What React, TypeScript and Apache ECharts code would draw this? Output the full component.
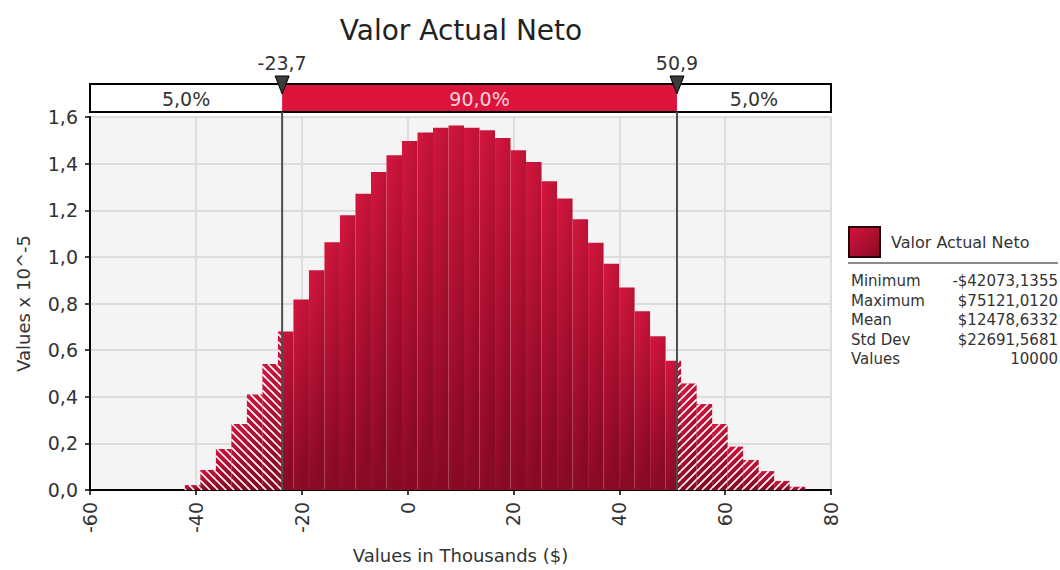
import React, { useEffect, useRef } from "react";
import * as echarts from "echarts";

const FONT = "DejaVu Sans";
const chartTitle = "Valor Actual Neto";
const seriesName = "Valor Actual Neto";
const xAxisName = "Values in Thousands ($)";
const yAxisName = "Values x 10^-5";

// histogram: 40 equal bins between min and max (thousands of $)
const binCount = 40;
const minValue = -42.0731355;
const maxValue = 75.121012;
const densities = [
  0.021, 0.086, 0.176, 0.283, 0.41, 0.54, 0.68, 0.817, 0.943, 1.063,
  1.179, 1.271, 1.364, 1.436, 1.497, 1.534, 1.554, 1.564, 1.554, 1.543,
  1.51, 1.457, 1.407, 1.324, 1.25, 1.161, 1.061, 0.971, 0.869, 0.767,
  0.66, 0.554, 0.457, 0.369, 0.283, 0.186, 0.129, 0.081, 0.039, 0.014,
];

const lowerCutoff = -23.7;
const upperCutoff = 50.9;
const cutoffLabels = ["-23,7", "50,9"];
const bandLabels = ["5,0%", "90,0%", "5,0%"];

const xMin = -60;
const xMax = 80;
const xInterval = 20;
const yMin = 0;
const yMax = 1.6;
const yInterval = 0.2;

const statLabels = ["Minimum", "Maximum", "Mean", "Std Dev", "Values"];
const statValues = ["-$42073,1355", "$75121,0120", "$12478,6332", "$22691,5681", "10000"];

const CRIMSON = "#dc143c";

function barGradient() {
  return new echarts.graphic.LinearGradient(0, 0, 0.35, 1, [
    { offset: 0, color: "#d5163f" },
    { offset: 1, color: "#880a24" },
  ]);
}

function addStripes(children: any[], ax: number, bx: number, y0: number, y1: number, dir: number) {
  const P = 8;
  if (bx - ax < 0.5) return;
  const st = { stroke: "#ffffff", lineWidth: 1.6 };
  if (dir > 0) {
    // lines x + y = c  ("/")
    const cmin = ax + y0;
    const cmax = bx + y1;
    for (let c = Math.ceil(cmin / P) * P; c <= cmax; c += P) {
      const xs = Math.max(ax, c - y1);
      const xe = Math.min(bx, c - y0);
      if (xe > xs) {
        children.push({ type: "line", shape: { x1: xs, y1: c - xs, x2: xe, y2: c - xe }, style: st });
      }
    }
  } else {
    // lines x - y = c  ("\")
    const cmin = ax - y1;
    const cmax = bx - y0;
    for (let c = Math.ceil(cmin / P) * P; c <= cmax; c += P) {
      const xs = Math.max(ax, y0 + c);
      const xe = Math.min(bx, y1 + c);
      if (xe > xs) {
        children.push({ type: "line", shape: { x1: xs, y1: xs - c, x2: xe, y2: xe - c }, style: st });
      }
    }
  }
}

export default function App() {
  const ref = useRef<HTMLDivElement>(null);

  useEffect(() => {
    if (!ref.current) return;
    const chart = echarts.init(ref.current, undefined, { renderer: "svg" });

    const binWidth = (maxValue - minValue) / binCount;
    const histData = densities.map((d, i) => [minValue + i * binWidth, minValue + (i + 1) * binWidth, d]);
    const bandData = [
      [xMin, lowerCutoff, 0],
      [lowerCutoff, upperCutoff, 1],
      [upperCutoff, xMax, 2],
    ];
    const cutoffData = [[lowerCutoff, 0], [upperCutoff, 1]];

    const axisText = { fontFamily: FONT, fontSize: 19, color: "#333" };
    const hiddenAxis = {
      show: false,
      axisLine: { show: false, onZero: false },
      axisTick: { show: false },
      axisLabel: { show: false },
      splitLine: { show: false },
    };

    const option: any = {
      animation: false,
      backgroundColor: "#ffffff",
      textStyle: { fontFamily: FONT },
      grid: [
        {
          left: 90, right: 229, top: 117, bottom: 80,
          show: true, backgroundColor: "#f4f4f4", borderWidth: 0,
        },
        { left: 90, right: 229, top: 84, height: 28, show: false },
      ],
      xAxis: [
        {
          type: "value", gridIndex: 0, min: xMin, max: xMax, interval: xInterval,
          name: xAxisName, nameLocation: "middle", nameGap: 56,
          nameTextStyle: { fontFamily: FONT, fontSize: 18, color: "#333" },
          axisLine: { show: true, onZero: false, lineStyle: { color: "#000", width: 2 } },
          axisTick: { show: true, length: 5, lineStyle: { color: "#000", width: 1.5 } },
          axisLabel: { ...axisText, rotate: 90, margin: 12, formatter: (v: number) => String(v) },
          splitLine: { show: true, lineStyle: { color: "#dddddd", width: 2 } },
        },
        { type: "value", gridIndex: 1, min: xMin, max: xMax, ...hiddenAxis },
      ],
      yAxis: [
        {
          type: "value", gridIndex: 0, min: yMin, max: yMax, interval: yInterval,
          name: yAxisName, nameLocation: "middle", nameGap: 58,
          nameTextStyle: { fontFamily: FONT, fontSize: 18, color: "#333" },
          axisLine: { show: true, onZero: false, lineStyle: { color: "#000", width: 2 } },
          axisTick: { show: true, length: 5, lineStyle: { color: "#000", width: 1.5 } },
          axisLabel: { ...axisText, margin: 12, formatter: (v: number) => v.toFixed(1).replace(".", ",") },
          splitLine: { show: true, lineStyle: { color: "#dddddd", width: 2 } },
        },
        { type: "value", gridIndex: 1, min: 0, max: 1, ...hiddenAxis },
      ],
      series: [
        {
          type: "custom",
          name: seriesName,
          xAxisIndex: 0,
          yAxisIndex: 0,
          z: 3,
          encode: { x: [0, 1], y: 2 },
          data: histData,
          renderItem: (params: any, api: any) => {
            const x0 = api.value(0) as number;
            const x1 = api.value(1) as number;
            const h = api.value(2) as number;
            const tl = api.coord([x0, h]);
            const br = api.coord([x1, 0]);
            const X0 = tl[0], Y0 = tl[1], X1 = br[0], Y1 = br[1];
            const children: any[] = [
              {
                type: "rect",
                shape: { x: X0, y: Y0, width: X1 - X0, height: Y1 - Y0 },
                style: { fill: barGradient() },
              },
            ];
            const loPx = api.coord([lowerCutoff, 0])[0];
            const hiPx = api.coord([upperCutoff, 0])[0];
            if (X0 < loPx) addStripes(children, X0, Math.min(X1, loPx), Y0, Y1, -1);
            if (X1 > hiPx) addStripes(children, Math.max(X0, hiPx), X1, Y0, Y1, 1);
            return { type: "group", children };
          },
        },
        {
          type: "custom",
          xAxisIndex: 0,
          yAxisIndex: 0,
          z: 6,
          encode: { x: 0 },
          data: cutoffData.map((d) => [d[0]]),
          renderItem: (params: any, api: any) => {
            const x = api.value(0) as number;
            const a = api.coord([x, yMin]);
            const b = api.coord([x, yMax]);
            return {
              type: "line",
              shape: { x1: a[0], y1: a[1], x2: a[0], y2: b[1] - 5 },
              style: { stroke: "#4d4d4d", lineWidth: 2 },
            };
          },
        },
        {
          type: "custom",
          xAxisIndex: 1,
          yAxisIndex: 1,
          z: 3,
          encode: { x: [0, 1] },
          data: bandData,
          renderItem: (params: any, api: any) => {
            const a = api.value(0) as number;
            const b = api.value(1) as number;
            const k = api.value(2) as number;
            const tl = api.coord([a, 1]);
            const br = api.coord([b, 0]);
            const mid = k === 1;
            return {
              type: "group",
              children: [
                {
                  type: "rect",
                  shape: { x: tl[0], y: tl[1], width: br[0] - tl[0], height: br[1] - tl[1] },
                  style: { fill: mid ? CRIMSON : "#ffffff" },
                },
                {
                  type: "text",
                  style: {
                    text: bandLabels[k],
                    x: (tl[0] + br[0]) / 2,
                    y: (tl[1] + br[1]) / 2 + 1,
                    textAlign: "center",
                    textVerticalAlign: "middle",
                    fill: mid ? "#f6d3da" : "#333333",
                    fontSize: 19,
                    fontFamily: FONT,
                  },
                },
              ],
            };
          },
        },
        {
          type: "custom",
          xAxisIndex: 1,
          yAxisIndex: 1,
          z: 4,
          encode: { x: [0, 1] },
          data: [[xMin, xMax]],
          renderItem: (params: any, api: any) => {
            const tl = api.coord([api.value(0), 1]);
            const br = api.coord([api.value(1), 0]);
            return {
              type: "rect",
              shape: { x: tl[0], y: tl[1], width: br[0] - tl[0], height: br[1] - tl[1] },
              style: { fill: "none", stroke: "#000000", lineWidth: 2 },
            };
          },
        },
        {
          type: "custom",
          xAxisIndex: 1,
          yAxisIndex: 1,
          z: 7,
          encode: { x: 0 },
          data: cutoffData,
          renderItem: (params: any, api: any) => {
            const x = api.value(0) as number;
            const k = api.value(1) as number;
            const p = api.coord([x, 1]);
            return {
              type: "group",
              children: [
                {
                  type: "polygon",
                  shape: { points: [[p[0] - 7, p[1] - 8], [p[0] + 7, p[1] - 8], [p[0], p[1] + 10]] },
                  style: { fill: "#3c3c3c", stroke: "#000000", lineWidth: 1 },
                },
                {
                  type: "text",
                  style: {
                    text: cutoffLabels[k],
                    x: p[0],
                    y: p[1] - 21,
                    textAlign: "center",
                    textVerticalAlign: "middle",
                    fill: "#333333",
                    fontSize: 19,
                    fontFamily: FONT,
                  },
                },
              ],
            };
          },
        },
      ],
      graphic: [
        {
          type: "text",
          x: 461,
          y: 30,
          style: {
            text: chartTitle,
            textAlign: "center",
            textVerticalAlign: "middle",
            fontSize: 28,
            fontFamily: FONT,
            fill: "#222222",
          },
        },
        {
          type: "rect",
          shape: { x: 849, y: 227, width: 31, height: 30 },
          style: {
            fill: new echarts.graphic.LinearGradient(0, 0, 1, 1, [
              { offset: 0, color: "#d5163f" },
              { offset: 1, color: "#880a24" },
            ]),
            stroke: "#2a0008",
            lineWidth: 2,
          },
        },
        {
          type: "text",
          x: 891,
          y: 242,
          style: {
            text: seriesName,
            textAlign: "left",
            textVerticalAlign: "middle",
            fontSize: 16,
            fontFamily: FONT,
            fill: "#333333",
          },
        },
        {
          type: "line",
          shape: { x1: 848, y1: 263, x2: 1058, y2: 263 },
          style: { stroke: "#8a8a8a", lineWidth: 2 },
        },
        ...statLabels.map((t, i) => ({
          type: "text",
          x: 851,
          y: 281 + i * 19.6,
          style: {
            text: t,
            textAlign: "left",
            textVerticalAlign: "middle",
            fontSize: 15,
            fontFamily: FONT,
            fill: "#333333",
          },
        })),
        ...statValues.map((t, i) => ({
          type: "text",
          x: 1058,
          y: 281 + i * 19.6,
          style: {
            text: t,
            textAlign: "right",
            textVerticalAlign: "middle",
            fontSize: 15,
            fontFamily: FONT,
            fill: "#333333",
          },
        })),
      ],
    };

    chart.setOption(option);
    return () => chart.dispose();
  }, []);

  return (
    <div
      ref={ref}
      style={{ position: "fixed", left: 0, top: 0, width: 1060, height: 570, background: "#fff" }}
    />
  );
}
